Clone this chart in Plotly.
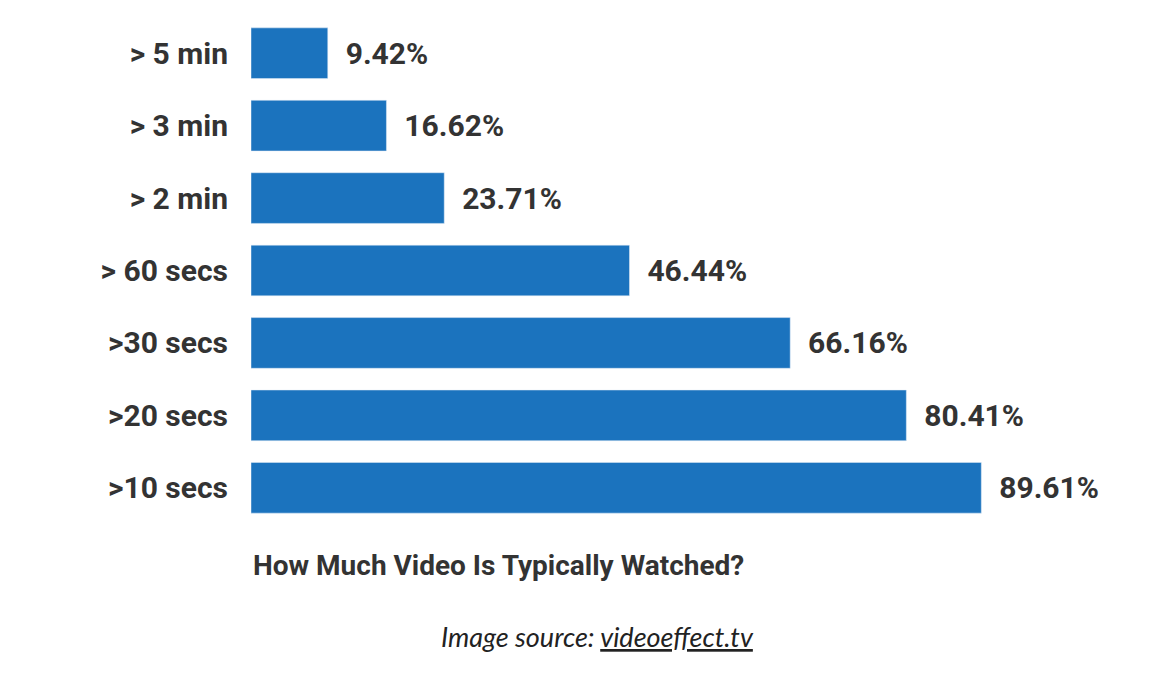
import plotly.graph_objects as go

categories = ["> 5 min", "> 3 min", "> 2 min", "> 60 secs", ">30 secs", ">20 secs", ">10 secs"]
values = [9.42, 16.62, 23.71, 46.44, 66.16, 80.41, 89.61]
labels = ["9.42%", "16.62%", "23.71%", "46.44%", "66.16%", "80.41%", "89.61%"]

font_main = "Liberation Sans Narrow, Roboto, Arial Narrow, sans-serif"
dark = "#333333"

fig = go.Figure(go.Bar(
    x=values,
    y=categories,
    orientation="h",
    marker_color="#1b73be",
    text=["  " + t for t in labels],
    textposition="outside",
    textfont=dict(family=font_main, size=30, color=dark, weight="bold"),
    cliponaxis=False,
))

fig.update_layout(
    width=1156, height=676,
    paper_bgcolor="white", plot_bgcolor="white",
    margin=dict(l=243, r=98, t=9, b=160),
    bargap=0.30,
    showlegend=False,
    xaxis=dict(range=[0, 100], visible=False),
    yaxis=dict(autorange="reversed", showgrid=False, ticks="", ticklabelstandoff=22,
               tickfont=dict(family=font_main, size=30, color=dark, weight="bold")),
    annotations=[
        dict(text="How Much Video Is Typically Watched?", xref="paper", yref="paper",
             x=0, y=-0.045, xanchor="left", yanchor="top", showarrow=False,
             font=dict(family=font_main, size=28, color=dark, weight="bold")),
        dict(text="<i>Image source: <u>videoeffect.tv</u></i>", xref="paper", yref="paper",
             x=0.425, y=-0.185, xanchor="center", yanchor="top", showarrow=False,
             font=dict(family="Lato, Open Sans, sans-serif", size=27, color="#222222")),
    ],
)

fig.write_html("out.html")
